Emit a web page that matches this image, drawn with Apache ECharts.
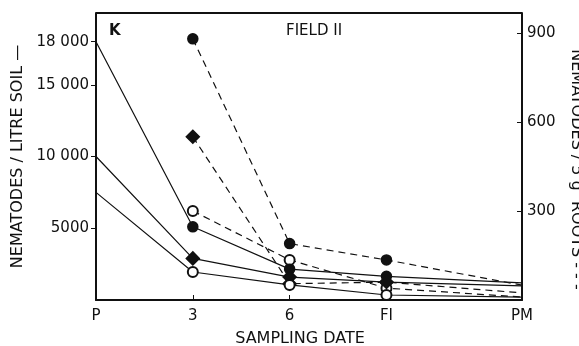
<!DOCTYPE html>
<html>
<head>
<meta charset="utf-8">
<script src="https://cdn.jsdelivr.net/npm/echarts@6/dist/echarts.min.js"></script>
<style>
  html, body { margin: 0; padding: 0; background: #fff; }
  #chart { width: 579px; height: 346px; }
</style>
</head>
<body>
<div id="chart"></div>
<script>
// sampling dates: position in weeks and label
var datePos = [0, 3, 6, 9, 13.2];
var dateLabels = ['P', '3', '6', 'FI', 'PM'];

// nematodes / litre soil (solid lines, left axis)
var soilCircle = [18000, 5100, 2150, 1650, 1200];
var soilDiamond = [10000, 2900, 1600, 1250, 980];
var soilOpen = [7500, 1950, 1050, 350, 200];

// nematodes / 5 g roots (dashed lines, right axis), no value at P
var rootCircle = [null, 880, 190, 135, 50];
var rootDiamond = [null, 550, 55, 60, 24];
var rootOpen = [null, 300, 135, 40, 10];

var soilTicks = [5000, 10000, 15000, 18000];
var rootTicks = [300, 600, 900];

var font = 'DejaVu Sans';
var ink = '#111';

// first (P) and last (PM) points are drawn without a marker
function pts(vals) {
  var out = [];
  vals.forEach(function (v, i) {
    if (v === null) return;
    var item = { value: [datePos[i], v] };
    if (i === 0 || i === vals.length - 1) item.symbol = 'none';
    out.push(item);
  });
  return out;
}

function line(name, vals, axis, symbol, dashed, size) {
  return {
    name: name,
    type: 'line',
    yAxisIndex: axis,
    data: pts(vals),
    symbol: symbol,
    symbolSize: size,
    showAllSymbol: true,
    lineStyle: { color: ink, width: 1.2, type: dashed ? [7, 5] : 'solid' },
    itemStyle: { color: ink, borderColor: ink, borderWidth: 1.5 },
    emphasis: { disabled: true },
    z: dashed ? 3 : 4
  };
}

var chart = echarts.init(document.getElementById('chart'));
chart.setOption({
  animation: false,
  backgroundColor: '#fff',
  grid: { left: 96, right: 57, top: 13, bottom: 46, outerBoundsMode: 'none', containLabel: false },
  title: [
    { text: 'K', left: 104, top: 19, textStyle: { fontFamily: font, fontSize: 15, fontWeight: 'bold', color: ink } },
    { text: 'FIELD II', left: 281, top: 19, textStyle: { fontFamily: font, fontSize: 15, fontWeight: 'normal', color: ink } }
  ],
  xAxis: {
    type: 'value',
    min: 0,
    max: 13.2,
    name: 'SAMPLING DATE',
    nameLocation: 'middle',
    nameGap: 31,
    nameTextStyle: { fontFamily: font, fontSize: 16, color: ink, padding: [0, 18, 0, 0] },
    axisLine: { lineStyle: { color: ink, width: 2 } },
    axisTick: { inside: true, length: 5, customValues: datePos.slice(1, 4), lineStyle: { color: ink } },
    axisLabel: {
      customValues: datePos,
      fontFamily: font, fontSize: 15, color: ink, margin: 9,
      formatter: function (v) { return dateLabels[datePos.indexOf(v)]; }
    },
    splitLine: { show: false }
  },
  yAxis: [{
    type: 'value',
    min: 0,
    max: 20000,
    position: 'left',
    name: 'NEMATODES / LITRE SOIL —',
    nameLocation: 'middle',
    nameGap: 70,
    nameRotate: 90,
    nameTextStyle: { fontFamily: font, fontSize: 16, color: ink },
    axisLine: { show: true, lineStyle: { color: ink, width: 2 } },
    axisTick: { show: true, length: 5, customValues: soilTicks, lineStyle: { color: ink } },
    axisLabel: {
      customValues: soilTicks,
      fontFamily: font, fontSize: 15, color: ink, margin: 7,
      formatter: function (v) { return v >= 10000 ? Math.floor(v / 1000) + ' 000' : String(v); }
    },
    splitLine: { show: false }
  }, {
    type: 'value',
    min: 0,
    max: 967,
    position: 'right',
    name: 'NEMATODES / 5 g  ROOTS - - -',
    nameLocation: 'middle',
    nameGap: 46,
    nameRotate: -90,
    nameTextStyle: { fontFamily: font, fontSize: 16, color: ink, padding: [0, 0, 0, 26] },
    axisLine: { show: true, lineStyle: { color: ink, width: 2 } },
    axisTick: { show: true, inside: true, length: 5, customValues: rootTicks, lineStyle: { color: ink } },
    axisLabel: {
      customValues: rootTicks,
      fontFamily: font, fontSize: 15, color: ink, margin: 5
    },
    splitLine: { show: false }
  }],
  graphic: [{
    type: 'line',
    shape: { x1: 96, y1: 13, x2: 522, y2: 13 },
    style: { stroke: ink, lineWidth: 2 }
  }],
  series: [
    line('root circle', rootCircle, 1, 'circle', true, 10),
    line('root diamond', rootDiamond, 1, 'diamond', true, 13),
    line('root open', rootOpen, 1, 'emptyCircle', true, 10),
    line('soil circle', soilCircle, 0, 'circle', false, 10),
    line('soil diamond', soilDiamond, 0, 'diamond', false, 13),
    line('soil open', soilOpen, 0, 'emptyCircle', false, 10)
  ]
});
</script>
</body>
</html>
